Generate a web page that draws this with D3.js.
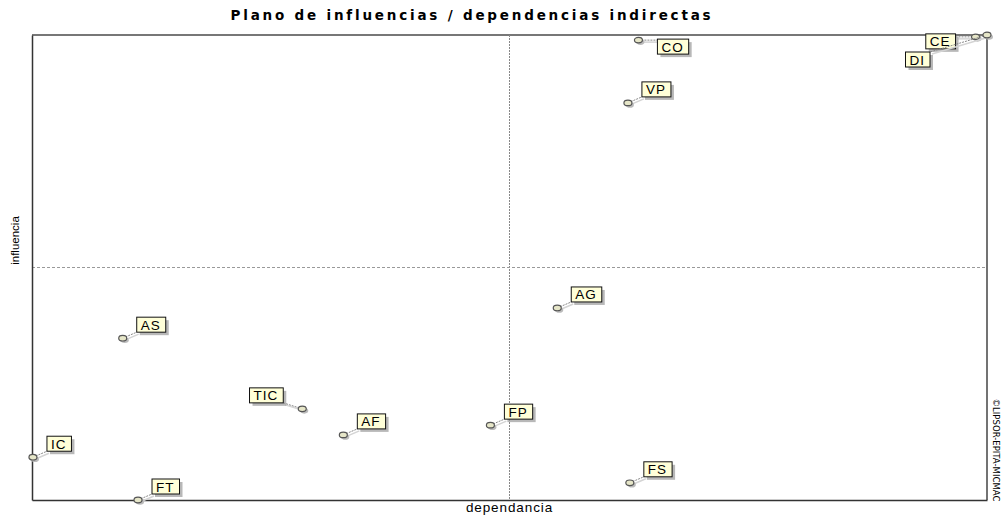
<!DOCTYPE html>
<html>
<head>
<meta charset="utf-8">
<script src="https://cdn.jsdelivr.net/npm/d3@7"></script>
<style>
  body { margin: 0; background: #fff; }
  svg { display: block; font-family: "Liberation Sans", Arial, sans-serif; }
</style>
</head>
<body>
<svg id="chart" width="1002" height="516"></svg>
<script>
// variables of the MICMAC plane (indirect influence / dependence)
const variables  = ["CO", "CE", "DI", "VP", "AG", "AS", "TIC", "AF", "FP", "IC", "FT", "FS"];
const dependance = [63.5, 98.8, 100, 62.4, 55.0, 9.5, 28.3, 32.6, 48.0, 0.1, 11.1, 62.6];
const influence  = [98.9, 99.6, 100, 85.4, 41.3, 34.8, 19.6, 14.0, 16.1, 9.2, 0, 3.7];
const midDependance = 50;
const midInfluence = 50;

const title = "Plano de influencias / dependencias indirectas";
const xTitle = "dependancia";
const yTitle = "influencia";
const credit = "©LIPSOR-EPITA-MICMAC";

// where each label box goes relative to its point: [dx, dy of box bottom, side]
const defaultLabel = [14, -6, "r"];
const labelPlace = {
  TIC: [-19, -6, "l"],
  CO: [19, 14, "r"],
  CE: [-20, 12, "l"],
  DI: [-57, 32, "l"]
};

const margin = {top: 35, right: 15, bottom: 16, left: 32},
      width = 1002 - margin.left - margin.right,
      height = 516 - margin.top - margin.bottom;

const svg = d3.select("#chart");
const g = svg.append("g")
    .attr("transform", `translate(${margin.left},${margin.top})`);

const x = d3.scaleLinear().domain([0, 100]).range([0, width]);
const y = d3.scaleLinear().domain([0, 100]).range([height, 0]);

// frame: top and right lighter
g.append("line").attr("x1", 0).attr("x2", width).attr("y1", 0).attr("y2", 0)
    .attr("stroke", "#777").attr("stroke-width", 2);
g.append("line").attr("x1", width).attr("x2", width).attr("y1", 0).attr("y2", height)
    .attr("stroke", "#444").attr("stroke-width", 1.5);

// quadrant lines
g.append("line")
    .attr("x1", x(midDependance)).attr("x2", x(midDependance))
    .attr("y1", 0).attr("y2", height)
    .attr("stroke", "#888").attr("stroke-dasharray", "2,1");
g.append("line")
    .attr("x1", 0).attr("x2", width)
    .attr("y1", y(midInfluence)).attr("y2", y(midInfluence))
    .attr("stroke", "#999").attr("stroke-dasharray", "3,2");

// left & bottom axes without ticks
g.append("g")
    .attr("transform", `translate(0,${height})`)
    .call(d3.axisBottom(x).ticks(0).tickSizeOuter(0))
    .select(".domain").attr("stroke", "#333").attr("stroke-width", 1.5);
g.append("g")
    .call(d3.axisLeft(y).ticks(0).tickSizeOuter(0))
    .select(".domain").attr("stroke", "#333").attr("stroke-width", 1.5);

const data = variables.map((v, i) => ({name: v, dx: dependance[i], iy: influence[i]}));

const nodes = g.selectAll(".var").data(data).enter().append("g").attr("class", "var");

nodes.each(function(d) {
  const node = d3.select(this);
  const px = x(d.dx), py = y(d.iy);
  const place = labelPlace[d.name] || defaultLabel;

  // measure text first
  const txt = node.append("text")
      .attr("font-size", 13.5)
      .attr("letter-spacing", 1)
      .text(d.name);
  const tw = txt.node().getComputedTextLength();
  const bw = tw + 9, bh = 15;
  const x0 = place[2] === "r" ? px + place[0] : px + place[0] - bw;
  const y1 = py + place[1], y0 = y1 - bh;
  const ex = Math.max(x0, Math.min(px, x0 + bw));
  const ey = Math.max(y0, Math.min(py, y1));

  // leader line with shadow
  node.insert("line", "text")
      .attr("x1", px + 2).attr("y1", py + 2).attr("x2", ex + 2).attr("y2", ey + 2)
      .attr("stroke", "#d4d4d4").attr("stroke-width", 1.5);
  node.insert("line", "text")
      .attr("x1", px).attr("y1", py).attr("x2", ex).attr("y2", ey)
      .attr("stroke", "#888").attr("stroke-dasharray", "2,1");

  // marker with shadow
  node.insert("ellipse", "text")
      .attr("cx", px + 2).attr("cy", py + 2).attr("rx", 4).attr("ry", 2.8)
      .attr("fill", "#bbb");
  node.insert("ellipse", "text")
      .attr("cx", px).attr("cy", py).attr("rx", 4).attr("ry", 2.8)
      .attr("fill", "#e6e6c8").attr("stroke", "#555").attr("stroke-width", 1.2);

  // label box with shadow
  node.insert("rect", "text")
      .attr("x", x0 + 3).attr("y", y0 + 3).attr("width", bw).attr("height", bh)
      .attr("fill", "#9a9a9a").attr("opacity", 0.7);
  node.insert("rect", "text")
      .attr("x", x0).attr("y", y0).attr("width", bw).attr("height", bh)
      .attr("fill", "#ffffd8").attr("stroke", "#111").attr("stroke-width", 1);

  txt.attr("x", x0 + 4).attr("y", y1 - 2.5).attr("fill", "#000");
});

// titles
svg.append("text")
    .attr("x", 472)
    .attr("y", 20)
    .attr("text-anchor", "middle")
    .attr("font-family", "'DejaVu Sans', sans-serif")
    .attr("font-weight", "bold")
    .attr("font-size", 13.5)
    .attr("letter-spacing", 2.8)
    .text(title);

svg.append("text")
    .attr("x", margin.left + x(50))
    .attr("y", 512)
    .attr("text-anchor", "middle")
    .attr("font-size", 13.5)
    .attr("letter-spacing", 0.9)
    .text(xTitle);

svg.append("text")
    .attr("transform", `translate(19,${margin.top + height / 2 - 27}) rotate(-90)`)
    .attr("text-anchor", "middle")
    .attr("font-size", 11.5)
    .text(yTitle);

svg.append("text")
    .attr("transform", `translate(993,450) rotate(90)`)
    .attr("text-anchor", "middle")
    .attr("font-size", 9.5)
    .attr("font-family", "'DejaVu Sans Condensed', 'Liberation Sans Narrow', sans-serif")
    .text(credit);
</script>
</body>
</html>
